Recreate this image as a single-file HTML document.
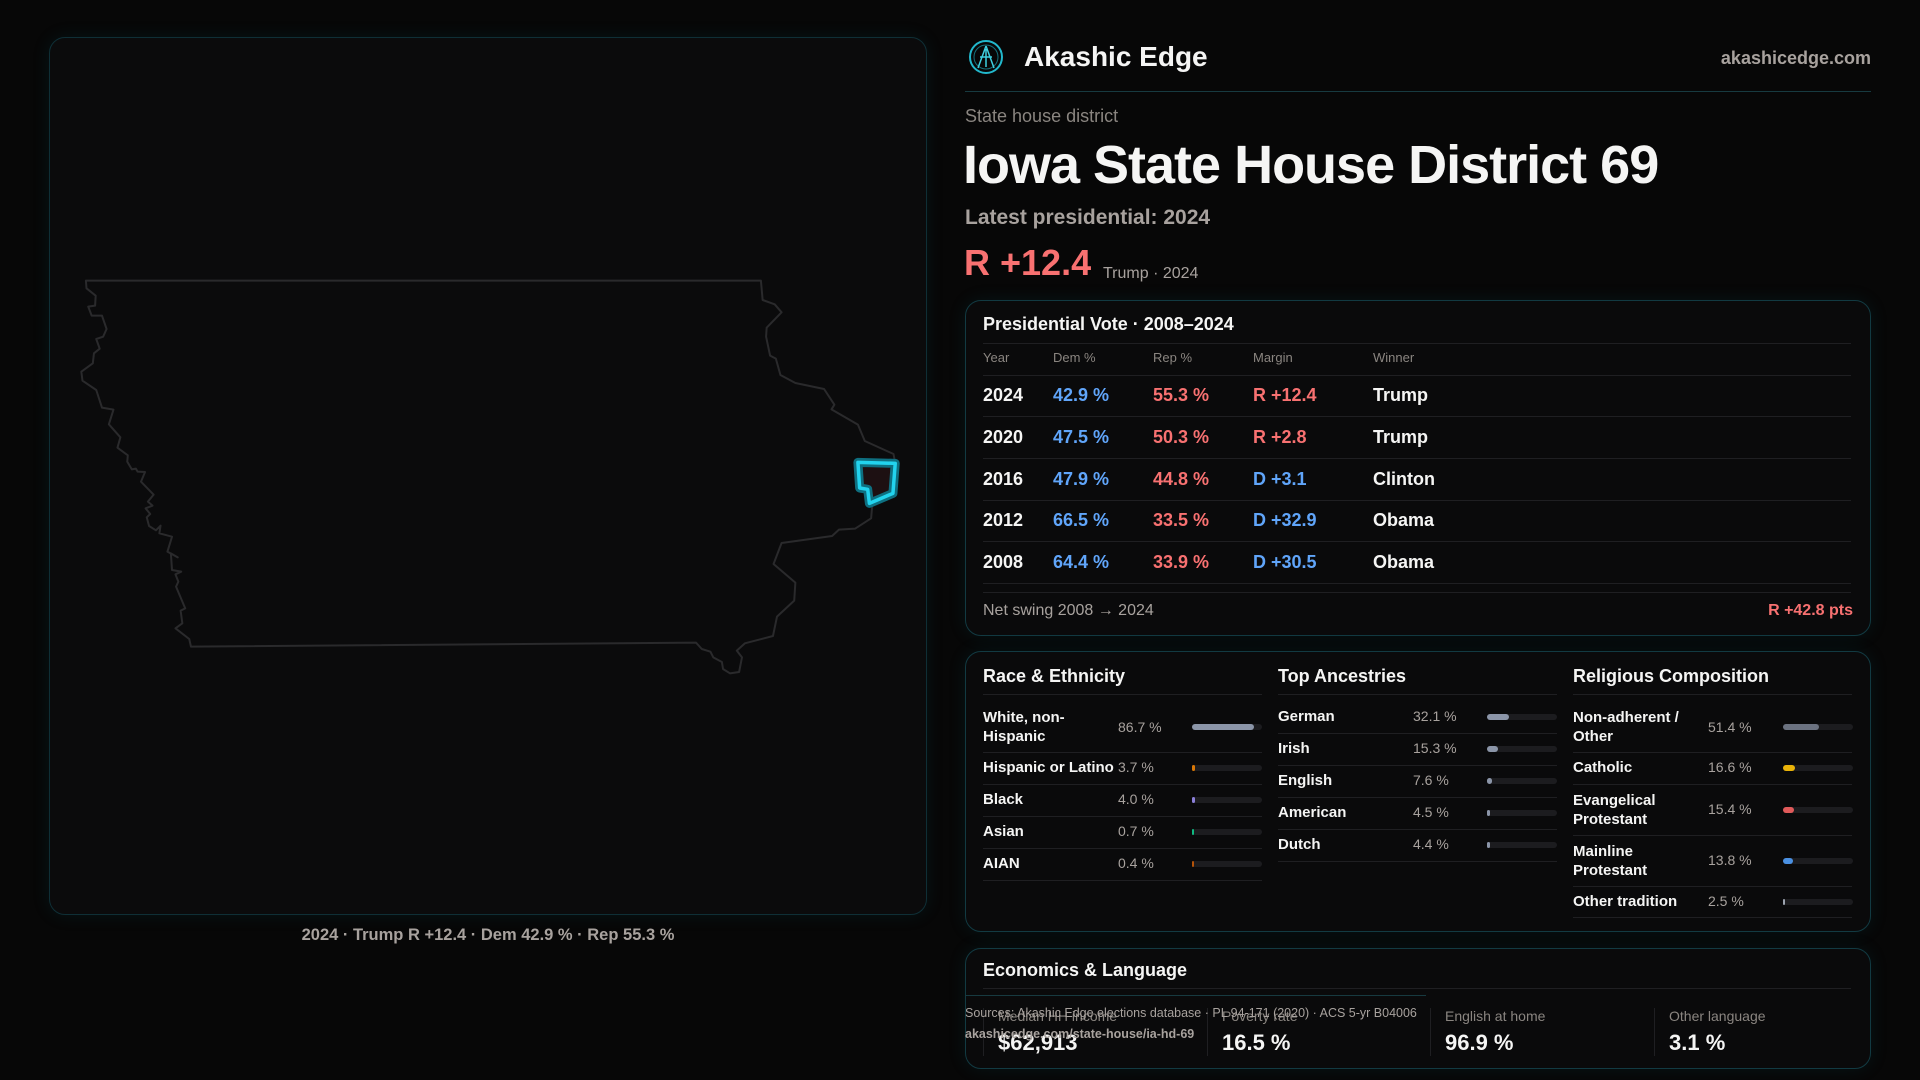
<!DOCTYPE html>
<html><head><meta charset="utf-8"><style>
*{box-sizing:border-box;margin:0;padding:0}
body{width:1920px;height:1080px;background:#070707;font-family:"Liberation Sans",sans-serif;color:#f5f5f4;position:relative;overflow:hidden}
.a{position:absolute;white-space:nowrap}
.card{position:absolute;border:1px solid #123a42;border-radius:16px;background:#0a0a0b;box-shadow:0 0 18px rgba(20,120,140,0.12)}
.lbl{color:#8a8580;font-size:13px}
.t{font-size:18px;font-weight:bold;position:absolute}
.bar{position:absolute;height:6px;background:#1c1c1f;border-radius:3px;width:70px}
.bar i{display:block;height:6px;border-radius:3px}
.dl{font-size:15px;font-weight:bold;color:#f5f5f4;line-height:19px}
.dv{font-size:14px;color:#a8a29e}
.sep{position:absolute;height:1px;background:#1f1f22}
</style></head><body>

<div class="card" style="left:49px;top:37px;width:878px;height:878px;background:#0b0b0c;border-color:#0f2f36"></div>
<svg class="a" style="left:40px;top:260px" width="900" height="440" viewBox="0 0 1568 1320" preserveAspectRatio="none">
<polygon fill="none" stroke="#2a2a2c" stroke-width="2" vector-effect="non-scaling-stroke" stroke-linejoin="round" points="80,62 1256,62 1259,120 1280,133 1292,157 1266,203 1265,230 1272,287 1282,296 1290,345 1316,369 1366,387 1384,434 1379,448 1425,494 1437,543 1487,582 1490,610 1486,700 1450,735 1448,775 1420,806 1392,809 1380,828 1292,849 1278,912 1316,968 1314,1022 1284,1070 1277,1128 1228,1150 1214,1172 1223,1192 1218,1236 1202,1240 1190,1227 1188,1206 1173,1192 1168,1175 1153,1167 1143,1148 263,1160 260,1137 236,1105 248,1090 245,1052 253,1045 237,980 241,965 236,943 246,935 230,930 228,880 240,892 222,875 230,830 208,820 210,797 202,811 190,798 186,772 192,762 184,745 196,737 188,725 198,704 176,665 183,636 170,635 167,626 160,628 152,605 153,586 135,563 140,532 120,493 128,449 108,443 98,390 74,362 72,335 92,310 94,280 104,266 98,237 110,230 116,207 108,167 90,167 84,140 96,137 97,107 81,85"/>
<polygon fill="#1d1012" stroke="#0e6f80" stroke-width="9" vector-effect="non-scaling-stroke" stroke-linejoin="round" points="1425,607 1490,610 1486,700 1445,730 1442,688 1428,684"/>
<polygon fill="none" stroke="#22d3ee" stroke-width="3.5" vector-effect="non-scaling-stroke" stroke-linejoin="round" points="1425,607 1490,610 1486,700 1445,730 1442,688 1428,684"/>
</svg>
<div class="a" style="left:0;width:976px;top:926px;text-align:center;font-size:16.5px;font-weight:bold;color:#a8a29e">2024 · Trump R +12.4 · Dem 42.9 % · Rep 55.3 %</div>

<svg class="a" style="left:968px;top:39px" width="36" height="36" viewBox="0 0 36 36"><circle cx="18" cy="18" r="16" fill="none" stroke="#22b8cc" stroke-width="2"/><circle cx="18" cy="18" r="12" fill="none" stroke="#15707c" stroke-width="1"/><path d="M18 7 L10 29 M18 7 L26 29 M12 18 L24 18 M18 10 L18 28" stroke="#3fd0e0" stroke-width="1.5" fill="none"/></svg>
<div class="a" style="left:1024px;top:41px;font-size:28px;font-weight:bold">Akashic Edge</div>
<div class="a" style="right:49px;top:48px;font-size:18px;font-weight:bold;color:#a8a29e">akashicedge.com</div>
<div class="a" style="left:965px;top:91px;width:906px;height:1px;background:#173a40"></div>
<div class="a" style="left:965px;top:106px;font-size:18px;color:#8a8580">State house district</div>
<div class="a" style="left:963px;top:134px;font-size:54px;font-weight:bold;letter-spacing:-1px">Iowa State House District 69</div>
<div class="a" style="left:965px;top:206px;font-size:21px;font-weight:bold;color:#a8a29e">Latest presidential: 2024</div>
<div class="a" style="left:964px;top:242px;font-size:36px;font-weight:bold;color:#f87171">R +12.4</div>
<div class="a" style="left:1103px;top:265px;font-size:16px;color:#a8a29e">Trump · 2024</div>

<div class="card" style="left:965px;top:300px;width:906px;height:336px"></div>
<div class="a" style="left:983px;top:314px;font-size:18px;font-weight:bold">Presidential Vote · 2008–2024</div>
<div class="sep" style="left:983px;top:343px;width:868px"></div>
<div class="a lbl" style="left:983px;top:350px">Year</div>
<div class="a lbl" style="left:1053px;top:350px">Dem %</div>
<div class="a lbl" style="left:1153px;top:350px">Rep %</div>
<div class="a lbl" style="left:1253px;top:350px">Margin</div>
<div class="a lbl" style="left:1373px;top:350px">Winner</div>
<div class="sep" style="left:983px;top:375px;width:868px"></div>
<div class="sep" style="left:983px;top:416px;width:868px"></div>
<div class="sep" style="left:983px;top:458px;width:868px"></div>
<div class="sep" style="left:983px;top:500px;width:868px"></div>
<div class="sep" style="left:983px;top:541px;width:868px"></div>
<div class="sep" style="left:983px;top:583px;width:868px"></div>
<div class="sep" style="left:983px;top:592px;width:868px"></div>

<div class="t" style="left:983px;top:385px">2024</div><div class="t" style="left:1053px;top:385px;color:#60a5fa">42.9 %</div><div class="t" style="left:1153px;top:385px;color:#f87171">55.3 %</div><div class="t" style="left:1253px;top:385px;color:#f87171">R +12.4</div><div class="t" style="left:1373px;top:385px">Trump</div>
<div class="t" style="left:983px;top:427px">2020</div><div class="t" style="left:1053px;top:427px;color:#60a5fa">47.5 %</div><div class="t" style="left:1153px;top:427px;color:#f87171">50.3 %</div><div class="t" style="left:1253px;top:427px;color:#f87171">R +2.8</div><div class="t" style="left:1373px;top:427px">Trump</div>
<div class="t" style="left:983px;top:469px">2016</div><div class="t" style="left:1053px;top:469px;color:#60a5fa">47.9 %</div><div class="t" style="left:1153px;top:469px;color:#f87171">44.8 %</div><div class="t" style="left:1253px;top:469px;color:#60a5fa">D +3.1</div><div class="t" style="left:1373px;top:469px">Clinton</div>
<div class="t" style="left:983px;top:510px">2012</div><div class="t" style="left:1053px;top:510px;color:#60a5fa">66.5 %</div><div class="t" style="left:1153px;top:510px;color:#f87171">33.5 %</div><div class="t" style="left:1253px;top:510px;color:#60a5fa">D +32.9</div><div class="t" style="left:1373px;top:510px">Obama</div>
<div class="t" style="left:983px;top:552px">2008</div><div class="t" style="left:1053px;top:552px;color:#60a5fa">64.4 %</div><div class="t" style="left:1153px;top:552px;color:#f87171">33.9 %</div><div class="t" style="left:1253px;top:552px;color:#60a5fa">D +30.5</div><div class="t" style="left:1373px;top:552px">Obama</div>
<div class="a" style="left:983px;top:602px;font-size:16px;color:#a8a29e">Net swing 2008 → 2024</div>
<div class="a" style="right:67px;top:602px;font-size:16px;font-weight:bold;color:#f87171">R +42.8 pts</div>

<div class="card" style="left:965px;top:651px;width:906px;height:281px"></div>
<div class="a" style="left:983px;top:666px;font-size:18px;font-weight:bold">Race &amp; Ethnicity</div>
<div class="a" style="left:1278px;top:666px;font-size:18px;font-weight:bold">Top Ancestries</div>
<div class="a" style="left:1573px;top:666px;font-size:18px;font-weight:bold">Religious Composition</div>
<div class="sep" style="left:983px;top:694px;width:279px"></div>
<div class="sep" style="left:1278px;top:694px;width:279px"></div>
<div class="sep" style="left:1573px;top:694px;width:279px"></div>

<div class="a dl" style="left:983px;top:708px">White, non-<br>Hispanic</div><div class="a dv" style="left:1118px;top:719px">86.7 %</div><div class="bar" style="left:1192px;top:724px"><i style="width:88%;background:#8b95a8"></i></div>
<div class="sep" style="left:983px;top:752px;width:279px"></div>
<div class="a dl" style="left:983px;top:758px">Hispanic or Latino</div><div class="a dv" style="left:1118px;top:759px">3.7 %</div><div class="bar" style="left:1192px;top:765px"><i style="width:3px;background:#d97706"></i></div>
<div class="sep" style="left:983px;top:784px;width:279px"></div>
<div class="a dl" style="left:983px;top:790px">Black</div><div class="a dv" style="left:1118px;top:791px">4.0 %</div><div class="bar" style="left:1192px;top:797px"><i style="width:3px;background:#8b7fd8"></i></div>
<div class="sep" style="left:983px;top:816px;width:279px"></div>
<div class="a dl" style="left:983px;top:822px">Asian</div><div class="a dv" style="left:1118px;top:823px">0.7 %</div><div class="bar" style="left:1192px;top:829px"><i style="width:2px;background:#10b981"></i></div>
<div class="sep" style="left:983px;top:848px;width:279px"></div>
<div class="a dl" style="left:983px;top:854px">AIAN</div><div class="a dv" style="left:1118px;top:855px">0.4 %</div><div class="bar" style="left:1192px;top:861px"><i style="width:2px;background:#b45309"></i></div>
<div class="sep" style="left:983px;top:880px;width:279px"></div>

<div class="a dl" style="left:1278px;top:707px">German</div><div class="a dv" style="left:1413px;top:708px">32.1 %</div><div class="bar" style="left:1487px;top:714px"><i style="width:32%;background:#8b95a8"></i></div>
<div class="sep" style="left:1278px;top:733px;width:279px"></div>
<div class="a dl" style="left:1278px;top:739px">Irish</div><div class="a dv" style="left:1413px;top:740px">15.3 %</div><div class="bar" style="left:1487px;top:746px"><i style="width:15%;background:#8b95a8"></i></div>
<div class="sep" style="left:1278px;top:765px;width:279px"></div>
<div class="a dl" style="left:1278px;top:771px">English</div><div class="a dv" style="left:1413px;top:772px">7.6 %</div><div class="bar" style="left:1487px;top:778px"><i style="width:5px;background:#8b95a8"></i></div>
<div class="sep" style="left:1278px;top:797px;width:279px"></div>
<div class="a dl" style="left:1278px;top:803px">American</div><div class="a dv" style="left:1413px;top:804px">4.5 %</div><div class="bar" style="left:1487px;top:810px"><i style="width:3px;background:#8b95a8"></i></div>
<div class="sep" style="left:1278px;top:829px;width:279px"></div>
<div class="a dl" style="left:1278px;top:835px">Dutch</div><div class="a dv" style="left:1413px;top:836px">4.4 %</div><div class="bar" style="left:1487px;top:842px"><i style="width:3px;background:#8b95a8"></i></div>
<div class="sep" style="left:1278px;top:861px;width:279px"></div>

<div class="a dl" style="left:1573px;top:708px">Non-adherent /<br>Other</div><div class="a dv" style="left:1708px;top:719px">51.4 %</div><div class="bar" style="left:1783px;top:724px"><i style="width:52%;background:#6b7280"></i></div>
<div class="sep" style="left:1573px;top:752px;width:279px"></div>
<div class="a dl" style="left:1573px;top:758px">Catholic</div><div class="a dv" style="left:1708px;top:759px">16.6 %</div><div class="bar" style="left:1783px;top:765px"><i style="width:17%;background:#eab308"></i></div>
<div class="sep" style="left:1573px;top:784px;width:279px"></div>
<div class="a dl" style="left:1573px;top:791px">Evangelical<br>Protestant</div><div class="a dv" style="left:1708px;top:801px">15.4 %</div><div class="bar" style="left:1783px;top:807px"><i style="width:15%;background:#e05a5a"></i></div>
<div class="sep" style="left:1573px;top:835px;width:279px"></div>
<div class="a dl" style="left:1573px;top:842px">Mainline<br>Protestant</div><div class="a dv" style="left:1708px;top:852px">13.8 %</div><div class="bar" style="left:1783px;top:858px"><i style="width:14%;background:#4a90e2"></i></div>
<div class="sep" style="left:1573px;top:886px;width:279px"></div>
<div class="a dl" style="left:1573px;top:892px">Other tradition</div><div class="a dv" style="left:1708px;top:893px">2.5 %</div><div class="bar" style="left:1783px;top:899px"><i style="width:2px;background:#9ca3af"></i></div>
<div class="sep" style="left:1573px;top:917px;width:279px"></div>

<div class="card" style="left:965px;top:948px;width:906px;height:121px"></div>
<div class="a" style="left:983px;top:960px;font-size:18px;font-weight:bold">Economics &amp; Language</div>
<div class="sep" style="left:983px;top:988px;width:868px"></div>
<div class="a" style="left:983px;top:1008px;width:1px;height:48px;background:#1f1f22"></div>
<div class="a" style="left:1207px;top:1008px;width:1px;height:48px;background:#1f1f22"></div>
<div class="a" style="left:1430px;top:1008px;width:1px;height:48px;background:#1f1f22"></div>
<div class="a" style="left:1654px;top:1008px;width:1px;height:48px;background:#1f1f22"></div>
<div class="a" style="left:998px;top:1008px;font-size:14px;color:#8a8580">Median HH income</div>
<div class="a" style="left:1222px;top:1008px;font-size:14px;color:#8a8580">Poverty rate</div>
<div class="a" style="left:1445px;top:1008px;font-size:14px;color:#8a8580">English at home</div>
<div class="a" style="left:1669px;top:1008px;font-size:14px;color:#8a8580">Other language</div>
<div class="a" style="left:998px;top:1030px;font-size:22px;font-weight:bold">$62,913</div>
<div class="a" style="left:1222px;top:1030px;font-size:22px;font-weight:bold">16.5 %</div>
<div class="a" style="left:1445px;top:1030px;font-size:22px;font-weight:bold">96.9 %</div>
<div class="a" style="left:1669px;top:1030px;font-size:22px;font-weight:bold">3.1 %</div>

<div class="a" style="left:965px;top:995px;width:461px;height:1px;background:#173a40"></div>
<div class="a" style="left:965px;top:1006px;font-size:12.5px;color:#a8a29e">Sources: Akashic Edge elections database · PL 94-171 (2020) · ACS 5-yr B04006</div>
<div class="a" style="left:965px;top:1027px;font-size:12.5px;font-weight:bold;color:#a8a29e">akashicedge.com/state-house/ia-hd-69</div>
</body></html>
